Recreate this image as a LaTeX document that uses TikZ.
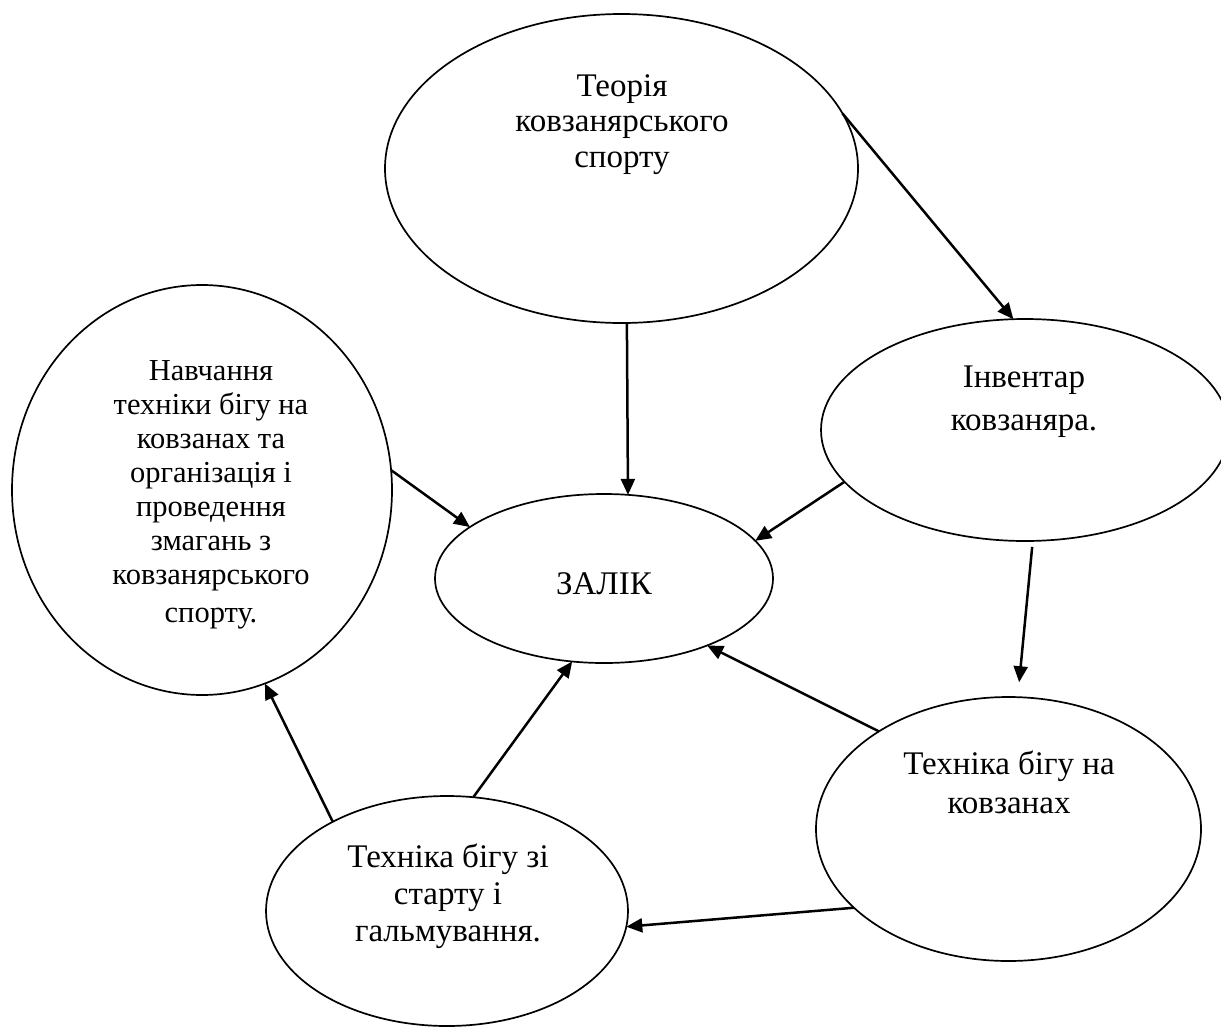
\documentclass[tikz,border=0pt]{standalone}
\usepackage{fontspec}
\setmainfont{Liberation Serif}
\usetikzlibrary{shapes.geometric,arrows.meta}
\newcommand\fsz[2]{\fontsize{#1}{#2}\selectfont}
\tikzset{
  ell/.style={draw=black, ellipse, line width=1.7pt, inner sep=0pt, outer sep=0pt},
  txt/.style={anchor=north, align=center, inner sep=0pt, text=black},
  conn/.style={line width=2.5pt, -{Triangle[length=16pt,width=14pt]}}
}
\begin{document}
\begin{tikzpicture}[x=1pt,y=-1pt]
\useasboundingbox (0,0) rectangle (1221,1026);
\fill[white] (0,0) rectangle (1221,1026);
% ellipses
\node[ell, minimum width=473pt, minimum height=309pt] (top) at (621.5,168.5) {};
\node[ell, minimum width=380pt, minimum height=410pt] (left) at (202,490) {};
\node[ell, minimum width=408pt, minimum height=222pt] (inv) at (1025,430) {};
\node[ell, minimum width=338pt, minimum height=169pt] (zal) at (604,578.5) {};
\node[ell, minimum width=385pt, minimum height=264pt] (tech) at (1008.5,829) {};
\node[ell, minimum width=362pt, minimum height=230pt] (bl) at (447,911) {};
% texts
\node[txt, font=\fsz{33}{35.5}] (ttop) at (622,74) {Теорія\\ковзанярського\\спорту};
\node[txt, font=\fsz{30.5}{34}] (tleft) at (211,360) {Навчання\\техніки бігу на\\ковзанах та\\організація і\\проведення\\змагань з\\ковзанярського\\[4pt]спорту.};
\node[txt, font=\fsz{33}{43}] (tinv) at (1024,366) {Інвентар\\ковзаняра.};
\node[txt, font=\fsz{33}{36}] (tzal) at (604,572) {ЗАЛІК};
\node[txt, font=\fsz{33}{38.5}] (ttech) at (1009,751) {Техніка бігу на\\ковзанах};
\node[txt, font=\fsz{33}{37}] (tbl) at (448,844) {Техніка бігу зі\\старту і\\гальмування.};
% connectors
\draw[conn] (top.14.5) -- (inv.96.8);
\draw[conn] (top.-88) -- (zal.74.3);
\draw[conn] (left.6.1) -- (zal.159.2);
\draw[conn] (inv.-164.2) -- (zal.14);
\draw[conn, shorten <=6pt, shorten >=15pt] (inv.-86.1) -- (tech.86.7);
\draw[conn] (bl.142.3) -- (left.-72.7);
\draw[conn] (bl.77.1) -- (zal.-111);
\draw[conn] (tech.143.9) -- (zal.-33.3);
\draw[conn] (tech.-153.4) -- (bl.-5.1);
\end{tikzpicture}
\end{document}
